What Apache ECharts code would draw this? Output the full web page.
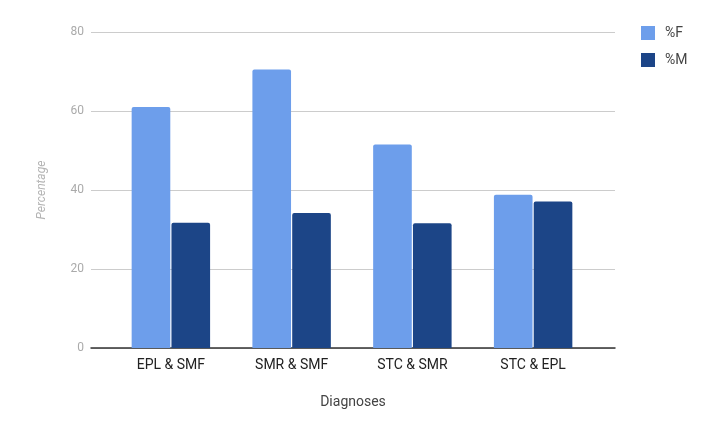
<!DOCTYPE html>
<html>
<head>
<meta charset="utf-8">
<script src="https://cdn.jsdelivr.net/npm/echarts@6/dist/echarts.min.js"></script>
<style>html,body{margin:0;padding:0;background:#fff}#c{width:702px;height:424px}</style>
</head>
<body>
<div id="c"></div>
<script>
var categories = ['EPL & SMF', 'SMR & SMF', 'STC & SMR', 'STC & EPL'];
var femaleValues = [61.0, 70.5, 51.5, 38.8];
var maleValues = [31.7, 34.2, 31.6, 37.1];
var yTicks = [0, 20, 40, 60, 80];

var chart = echarts.init(document.getElementById('c'));
chart.setOption({
  animation: false,
  textStyle: { fontFamily: 'Roboto, Arial, sans-serif' },
  legend: {
    orient: 'vertical', left: 636, top: 21,
    itemWidth: 14, itemHeight: 14, itemGap: 13,
    icon: 'rect',
    textStyle: { color: '#444', fontSize: 14, padding: [0, 0, 0, 5] },
    data: ['%F', '%M']
  },
  grid: [
    { left: 91, right: 87, top: 32, bottom: 76 },
    { left: 110.5, right: 108.5, top: 32, bottom: 76 }
  ],
  xAxis: [
    { type: 'value', gridIndex: 0, min: 0, max: 1, axisLabel: { show: false }, axisTick: { show: false }, splitLine: { show: false },
      axisLine: { show: true, onZero: false, lineStyle: { color: '#333', width: 1.5 } },
      name: 'Diagnoses', nameLocation: 'middle', nameGap: 47, nameTextStyle: { color: '#444', fontSize: 14 } },
    { type: 'category', gridIndex: 1, data: categories, axisLine: { show: false }, axisTick: { show: false },
      axisLabel: { color: '#222', fontSize: 14, margin: 10 } }
  ],
  yAxis: [
    { type: 'value', gridIndex: 0, min: yTicks[0], max: yTicks[yTicks.length - 1], interval: 20,
      axisLine: { show: false }, axisTick: { show: false },
      axisLabel: { color: '#aaa', fontSize: 12, margin: 7 },
      splitLine: { lineStyle: { color: '#ccc', width: 1 } },
      name: 'Percentage', nameLocation: 'middle', nameGap: 43,
      nameTextStyle: { color: '#b4b4b4', fontSize: 12, fontStyle: 'italic' } },
    { type: 'value', gridIndex: 1, min: 0, max: 80, show: false, splitLine: { show: false } }
  ],
  series: [
    { name: '%F', type: 'bar', xAxisIndex: 1, yAxisIndex: 1, data: femaleValues,
      barWidth: '32%', barGap: '3%', itemStyle: { color: '#6d9eeb', borderRadius: [2, 2, 0, 0] } },
    { name: '%M', type: 'bar', xAxisIndex: 1, yAxisIndex: 1, data: maleValues,
      barWidth: '32%', barGap: '3%', itemStyle: { color: '#1c4587', borderRadius: [2, 2, 0, 0] } }
  ]
});
</script>
</body>
</html>
